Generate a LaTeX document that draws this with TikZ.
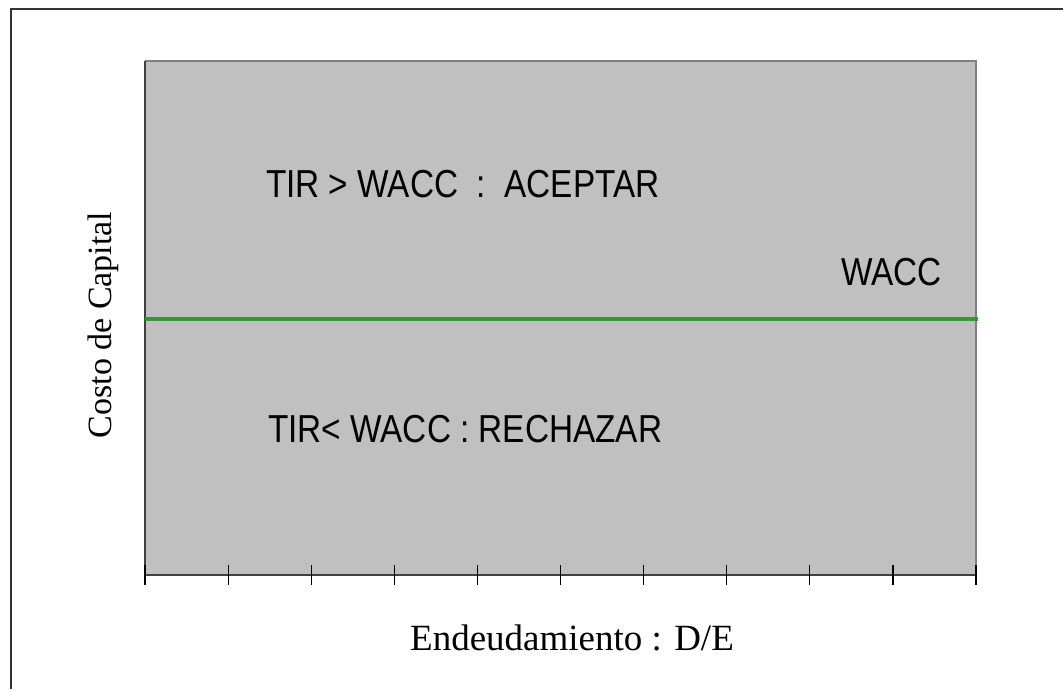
\documentclass[tikz,border=0pt]{standalone}
\usepackage{fontspec}
\setmainfont{Liberation Serif}
\newfontfamily\chartfont{Liberation Sans}
\definecolor{plotgray}{RGB}{192,192,192}
\definecolor{edgegray}{RGB}{128,128,128}
\definecolor{waccgreen}{RGB}{51,153,51}

\begin{document}
\begin{tikzpicture}[x=1pt, y=-1pt,
      every node/.style = {inner sep=0pt, outer sep=0pt},
      rule/.style = {font=\chartfont\fontsize{39}{42}\selectfont,
        xscale=0.855, transform shape, anchor=base west},
      axislabel/.style = {font=\fontsize{37}{40}\selectfont, anchor=base}]
  \useasboundingbox (0,0) rectangle (1063,689);
  % frame
  \draw[line width=2pt, black!80] (11,689) -- (11,9) -- (1063,9);
  % plot area
  \fill[plotgray] (145,61) rectangle (976,574);
  \draw[line width=2.5pt, edgegray] (145,61) -- (976,61) -- (976,574);
  \draw[line width=2pt, black!75] (145,61) -- (145,575) -- (976,575);
  \foreach \k in {0,...,10}
    \draw[line width=1.2pt] ({145+83.1*\k},565) -- ({145+83.1*\k},585);
  % WACC line
  \draw[line width=4pt, waccgreen] (145,319) -- (978,319);
  \node[rule] (acept) at (266,197) {TIR > WACC\ \ :\ \ ACEPTAR};
  \node[rule] (rech) at (268,442) {TIR< WACC : RECHAZAR};
  \node[rule] (wacc) at (841,285) {WACC};
  % axis labels
  \node[axislabel] (xlab) at (572,650) {Endeudamiento : D/E};
  \node[axislabel, font=\fontsize{34}{38}\selectfont, rotate=90] (ylab) at (111,325) {Costo de Capital};
\end{tikzpicture}
\end{document}
